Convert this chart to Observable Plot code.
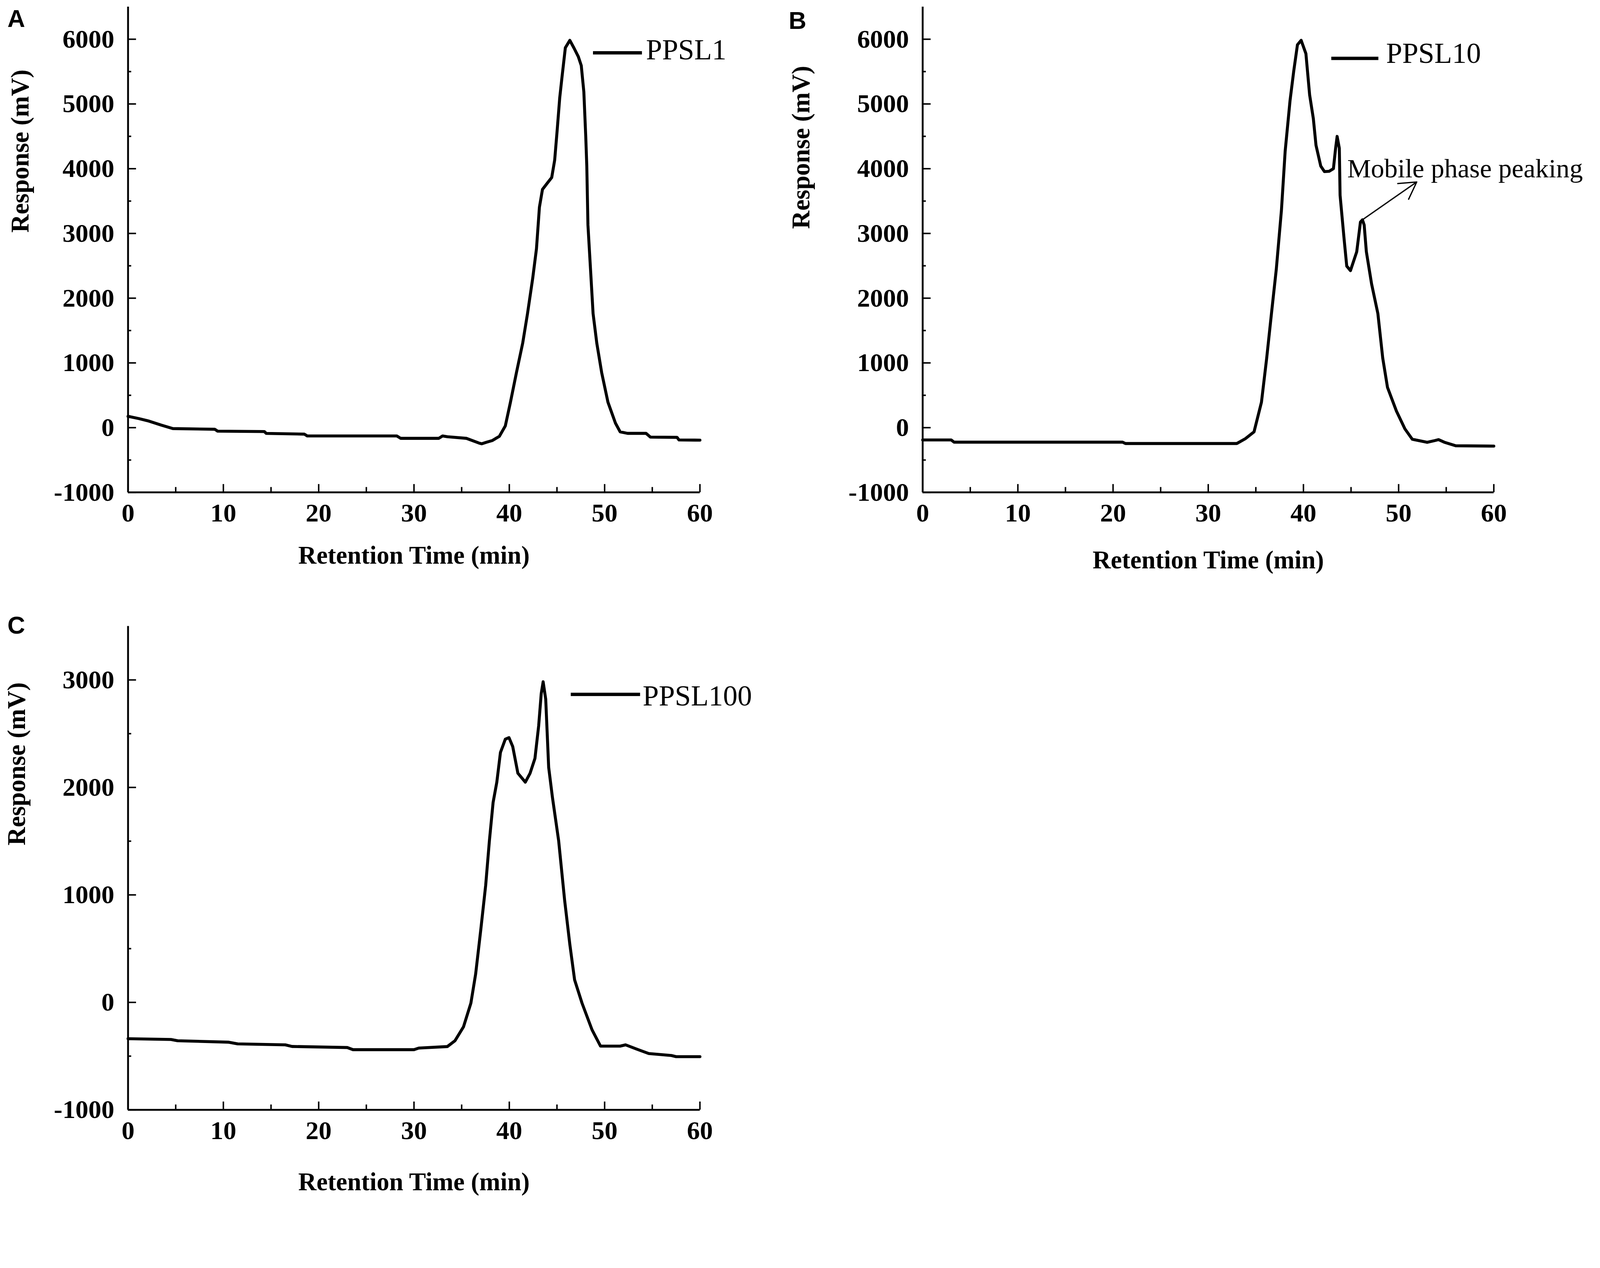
<!DOCTYPE html>
<html>
<head>
<meta charset="utf-8">
<script src="https://cdn.jsdelivr.net/npm/d3@7"></script>
<script src="https://cdn.jsdelivr.net/npm/@observablehq/plot@0.6"></script>
<style>
  html, body { margin: 0; padding: 0; background: #fff; overflow: hidden; }
  #stage { position: absolute; left: 0; top: 0; width: 4317px; height: 3246px; transform-origin: 0 0; background: #fff; }
  .panel { position: absolute; }
  .tag { position: absolute; font-family: "Liberation Sans", Arial, sans-serif; font-weight: bold; font-size: 66px; line-height: 1; color: #000; }
  .legline { position: absolute; height: 9px; background: #000; }
  .legtext { position: absolute; font-family: "Liberation Serif", "Times New Roman", serif; font-size: 78px; line-height: 1; color: #000; white-space: nowrap; }
</style>
</head>
<body>
<div id="stage"></div>
<script>
// ---------- data ----------
const timeA = [0, 1.1, 2.2, 3.5, 4.7, 9.1, 9.4, 14.3, 14.5, 18.5, 18.8, 28.2, 28.6, 32.6, 33.0, 33.5, 35.5, 36.8, 37.1, 37.6, 38.2, 38.96, 39.58, 40.12, 40.75, 41.41, 41.91, 42.46, 42.85, 43.16, 43.48, 44.0, 44.45, 44.76, 45.02, 45.29, 45.53, 45.88, 46.35, 46.8, 47.24, 47.55, 47.82, 48.02, 48.13, 48.25, 48.52, 48.79, 49.18, 49.69, 50.35, 51.13, 51.63, 52.41, 54.35, 54.8, 57.6, 57.8, 60];
const respA = [175, 141, 101, 38, -14, -25, -54, -60, -89, -100, -128, -128, -165, -165, -128, -140, -165, -237, -249, -225, -200, -134, 26, 393, 851, 1310, 1762, 2312, 2764, 3406, 3680, 3780, 3864, 4133, 4591, 5095, 5416, 5868, 5983, 5860, 5731, 5593, 5187, 4499, 4041, 3131, 2449, 1762, 1304, 851, 393, 72, -65, -88, -88, -146, -150, -190, -193];

const timeB = [0, 3.0, 3.3, 21.0, 21.3, 33.0, 33.9, 34.81, 35.59, 36.14, 36.64, 37.15, 37.69, 38.08, 38.59, 38.98, 39.37, 39.76, 40.26, 40.65, 41.04, 41.32, 41.82, 42.21, 42.7, 43.15, 43.38, 43.54, 43.77, 43.85, 44.28, 44.55, 44.94, 45.6, 45.99, 46.2, 46.38, 46.61, 47.16, 47.82, 48.33, 48.83, 49.77, 50.66, 51.44, 53.0, 53.8, 54.2, 54.8, 56.0, 60];
const respB = [-190, -190, -224, -224, -245, -245, -170, -65, 393, 1075, 1762, 2449, 3360, 4270, 5049, 5507, 5914, 5983, 5777, 5141, 4774, 4362, 4041, 3955, 3960, 4001, 4316, 4499, 4316, 3589, 2901, 2495, 2426, 2718, 3177, 3210, 3131, 2718, 2220, 1762, 1075, 622, 256, -19, -180, -226, -200, -185, -225, -280, -285];

const timeC = [0, 4.5, 5.2, 10.5, 11.5, 16.5, 17.2, 23.0, 23.6, 30.0, 30.5, 33.5, 34.3, 35.19, 35.97, 36.47, 37.01, 37.52, 37.91, 38.3, 38.69, 39.07, 39.58, 39.97, 40.36, 40.9, 41.68, 42.18, 42.69, 43.08, 43.35, 43.55, 43.82, 44.13, 44.52, 45.18, 45.8, 46.35, 46.85, 47.63, 48.68, 49.57, 51.63, 52.2, 53.35, 54.63, 57.0, 57.5, 60];
const respC = [-338, -345, -357, -370, -386, -395, -410, -420, -440, -440, -425, -411, -357, -228, -7, 265, 678, 1088, 1502, 1860, 2049, 2325, 2449, 2463, 2380, 2132, 2049, 2132, 2270, 2573, 2873, 2983, 2821, 2187, 1911, 1502, 954, 540, 210, -7, -255, -407, -407, -395, -434, -476, -494, -505, -505];

const xMajorTicks = [0, 10, 20, 30, 40, 50, 60];
const xMinorTicks = [5, 15, 25, 35, 45, 55];
const yMajorAB = [-1000, 0, 1000, 2000, 3000, 4000, 5000, 6000];
const yMinorAB = [-500, 500, 1500, 2500, 3500, 4500, 5500];
const yMajorC = [-1000, 0, 1000, 2000, 3000];
const yMinorC = [-500, 500, 1500, 2500];
const yDomainAB = [-1000, 6500];
const yDomainC = [-1000, 3500];

const seriesNames = ["PPSL1", "PPSL10", "PPSL100"];
const panelTags = ["A", "B", "C"];
const xTitle = "Retention Time (min)";
const yTitle = "Response (mV)";
const annotationLabel = ["Mobile phase peaking"];
const annotationLabelAt = [44.6, 3864];          // minutes, mV
const annotationArrow = [46.3, 3222, 51.9, 3795]; // from (min, mV) to (min, mV)

// ---------- drawing ----------
const serif = '"Liberation Serif", "Times New Roman", serif';
const stage = document.getElementById("stage");

function chart(o) {
  const data = o.time.map((t, i) => ({t, v: o.resp[i]}));
  return Plot.plot({
    width: o.width, height: o.height,
    marginLeft: o.ml, marginRight: o.mr, marginTop: o.mt, marginBottom: o.mb,
    style: {fontFamily: serif, fontSize: "70px", fontWeight: "bold", color: "#000", background: "transparent", maxWidth: "none", overflow: "visible"},
    x: {domain: [0, 60]},
    y: {domain: o.yDomain},
    marks: [
      Plot.ruleX([0], {stroke: "#000", strokeWidth: 5}),
      Plot.ruleY([o.yDomain[0]], {stroke: "#000", strokeWidth: 5}),
      Plot.axisX(xMajorTicks, {tickSize: -22, tickPadding: 51, strokeWidth: 4, tickFormat: d => String(d), label: null, fontSize: 70}),
      Plot.axisX(xMinorTicks, {tickSize: -14, tickPadding: 0, strokeWidth: 4, tickFormat: () => "", label: null}),
      Plot.axisY(o.yMajor, {tickSize: -22, tickPadding: 59, strokeWidth: 4, tickFormat: d => String(d), label: null, fontSize: 70}),
      Plot.axisY(o.yMinor, {tickSize: -9, tickPadding: 0, strokeWidth: 4, tickFormat: () => "", label: null}),
      Plot.text([xTitle], {text: d => d, frameAnchor: "bottom", lineAnchor: "bottom", dy: o.xTitleOffset, fontSize: 68, fontWeight: "bold"}),
      Plot.text([yTitle], {text: d => d, frameAnchor: "left", rotate: -90, lineAnchor: "top", dx: -o.yTitleOffset, dy: o.yTitleShift, fontSize: 68, fontWeight: "bold"}),
      Plot.line(data, {x: "t", y: "v", stroke: "#000", strokeWidth: 8, strokeLinejoin: "round"}),
      ...(o.extra || [])
    ]
  });
}

const panels = [
  {left: 0, top: 0, width: 2100, height: 1600, ml: 345, mr: 212, mt: 18, mb: 272,
   time: timeA, resp: respA, yDomain: yDomainAB, yMajor: yMajorAB, yMinor: yMinorAB,
   xTitleOffset: 192, yTitleOffset: 317, yTitleShift: -46},
  {left: 2100, top: 0, width: 2217, height: 1600, ml: 389, mr: 287, mt: 18, mb: 272,
   time: timeB, resp: respB, yDomain: yDomainAB, yMajor: yMajorAB, yMinor: yMinorAB,
   xTitleOffset: 205, yTitleOffset: 354, yTitleShift: -56,
   extra: [
     Plot.arrow([annotationArrow], {x1: d => d[0], y1: d => d[1], x2: d => d[2], y2: d => d[3], stroke: "#000", strokeWidth: 3.5, headLength: 22}),
     Plot.text(annotationLabel, {text: d => d, x: () => annotationLabelAt[0], y: () => annotationLabelAt[1], textAnchor: "start", lineAnchor: "bottom", fontSize: 72, fontWeight: "normal"})
   ]},
  {left: 0, top: 1600, width: 2100, height: 1646, ml: 345, mr: 212, mt: 89, mb: 252,
   time: timeC, resp: respC, yDomain: yDomainC, yMajor: yMajorC, yMinor: yMinorC,
   xTitleOffset: 217, yTitleOffset: 326, yTitleShift: -61}
];

panels.forEach(p => {
  const svg = chart(p);
  const wrap = document.createElement("div");
  wrap.className = "panel";
  wrap.style.left = p.left + "px";
  wrap.style.top = p.top + "px";
  wrap.appendChild(svg);
  stage.appendChild(wrap);
});

// panel tags
const tagPos = [[20, 17], [2128, 22], [20, 1654]];
panelTags.forEach((t, i) => {
  const d = document.createElement("div");
  d.className = "tag";
  d.textContent = t;
  d.style.left = tagPos[i][0] + "px";
  d.style.top = tagPos[i][1] + "px";
  stage.appendChild(d);
});

// legends (line swatch + series name)
const legendLayout = [
  {lx: 1600, ly: 138, lw: 132, tx: 1743, ty: 95},
  {lx: 3592, ly: 153, lw: 127, tx: 3740, ty: 105},
  {lx: 1540, ly: 1869, lw: 187, tx: 1734, ty: 1838}
];
seriesNames.forEach((name, i) => {
  const L = legendLayout[i];
  const line = document.createElement("div");
  line.className = "legline";
  line.style.left = L.lx + "px"; line.style.top = L.ly + "px"; line.style.width = L.lw + "px";
  stage.appendChild(line);
  const txt = document.createElement("div");
  txt.className = "legtext";
  txt.textContent = name;
  txt.style.left = L.tx + "px"; txt.style.top = L.ty + "px";
  stage.appendChild(txt);
});

// fit the 4317x3246 design into whatever viewport the page is opened in
function fit() {
  const vw = document.documentElement.clientWidth || window.innerWidth;
  const vh = document.documentElement.clientHeight || window.innerHeight;
  const s = Math.min(1, vw / 4317, vh / 3246);
  stage.style.transform = s < 1 ? `scale(${s})` : "none";
}
fit();
window.addEventListener("resize", fit);
</script>
</body>
</html>
